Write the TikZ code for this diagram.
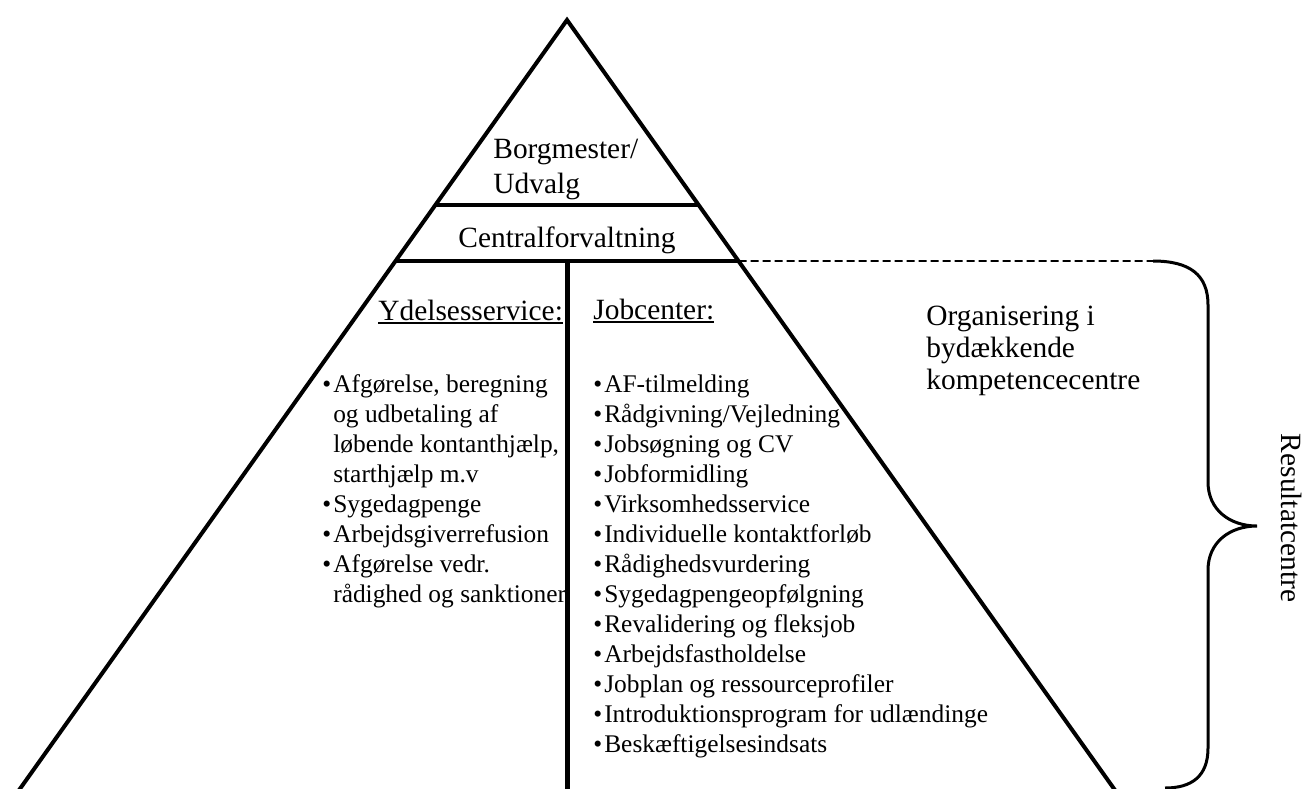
\documentclass[tikz,border=0pt]{standalone}
\usepackage{fontspec}
\setmainfont{Liberation Serif}
\usetikzlibrary{calc}
\newcommand{\stack}[1]{\begin{tabular}[t]{@{}l@{}}#1\end{tabular}}
\newcommand{\bulletlist}[1]{\begin{tabular}[t]{@{}l@{\hspace{1pt}}l@{}}#1\end{tabular}}
\newcommand{\headline}[1]{\setbox0\hbox{#1}\rlap{\rule[-1.9pt]{\wd0}{0.9pt}}\box0}

\begin{document}
\begin{tikzpicture}[x=0.5pt,y=-0.5pt,
        edge/.style={line width=2pt, line join=miter},
        bigtext/.style={font=\fontsize{14.7}{17.5}\selectfont, inner sep=0pt},
        listtext/.style={font=\fontsize{12.7}{15}\selectfont, inner sep=0pt}]
                \useasboundingbox (0,0) rectangle (1309,788);
                \coordinate (apex) at (567,20);
                \coordinate (bl) at (12,800);
                \coordinate (br) at (1122,800);
                \coordinate (bl1) at ($(apex)!0.2372!(bl)$);
                \coordinate (br1) at ($(apex)!0.2372!(br)$);
                \coordinate (bl2) at ($(apex)!0.309!(bl)$);
                \coordinate (br2) at ($(apex)!0.309!(br)$);
                \coordinate (mid) at ($(bl2)!0.5!(br2)$);
                \coordinate (btop) at (1153,261);
                \draw[edge] (bl) -- (apex) -- (br);
                \draw[edge] (bl1) -- (br1);
                \draw[edge] (bl2) -- (br2);
                \draw[line width=2.5pt] (mid) -- (mid |- bl);
                \draw[line width=0.8pt, dash pattern=on 4pt off 2pt] (br2) -- (btop);
                \draw[line width=1.5pt] (btop) .. controls (1190,261) and (1208,275) .. (1208,305) -- (1208,482)
                    .. controls (1208,510) and (1230,526) .. (1257,526)
                    .. controls (1230,526) and (1208,542) .. (1208,570) -- (1208,748)
                    .. controls (1208,776) and (1192,788) .. (1165,788);
                \node[bigtext, anchor=base west] (borgmester) at (493,158) {\stack{Borgmester/\\Udvalg}};
                \node[bigtext, anchor=base west] (central) at (458,247) {Centralforvaltning};
                \node[bigtext, anchor=base west] (ydelse) at (378,320) {\headline{Ydelsesservice:}};
                \node[bigtext, anchor=base west] (jobcenter) at (593,319) {\headline{Jobcenter:}};
                \node[listtext, anchor=base west] (ydelseitems) at (322,392) {\bulletlist{
                    \textbullet & Afgørelse, beregning\\
                    & og udbetaling af\\
                    & løbende kontanthjælp,\\
                    & starthjælp m.v\\
                    \textbullet & Sygedagpenge\\
                    \textbullet & Arbejdsgiverrefusion\\
                    \textbullet & Afgørelse vedr.\\
                    & rådighed og sanktioner}};
                \node[listtext, anchor=base west] (jobitems) at (593,392) {\bulletlist{
                    \textbullet & AF-tilmelding\\
                    \textbullet & Rådgivning/Vejledning\\
                    \textbullet & Jobsøgning og CV\\
                    \textbullet & Jobformidling\\
                    \textbullet & Virksomhedsservice\\
                    \textbullet & Individuelle kontaktforløb\\
                    \textbullet & Rådighedsvurdering\\
                    \textbullet & Sygedagpengeopfølgning\\
                    \textbullet & Revalidering og fleksjob\\
                    \textbullet & Arbejdsfastholdelse\\
                    \textbullet & Jobplan og ressourceprofiler\\
                    \textbullet & Introduktionsprogram for udlændinge\\
                    \textbullet & Beskæftigelsesindsats}};
                \node[bigtext, anchor=base west, font=\fontsize{14.7}{16}\selectfont] (organisering) at (926,325) {\stack{Organisering i\\bydækkende\\kompetencecentre}};
                \node[bigtext, rotate=-90] (resultat) at (1292,518) {Resultatcentre};
\end{tikzpicture}
\end{document}
